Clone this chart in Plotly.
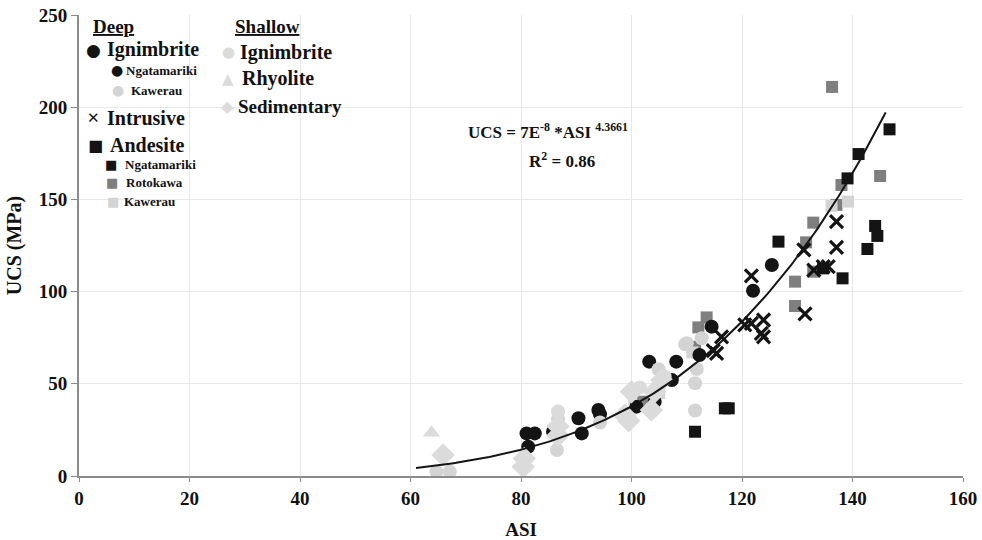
import numpy as np
import plotly.graph_objects as go

# ---------------- data ----------------
ign_ngat_x = [81.0, 82.5, 81.3, 85.8, 90.4, 91.0, 94.0, 94.3, 100.9, 104.2, 103.2, 108.1, 107.3, 112.3, 114.5, 122.0, 125.4]
ign_ngat_y = [23.1, 23.1, 15.9, 24.0, 31.3, 23.1, 35.8, 33.5, 37.6, 40.3, 62.0, 62.0, 52.0, 65.6, 81.0, 100.5, 114.4]

ign_kaw_x = [64.7, 67.1, 86.5, 111.5, 111.5, 111.8, 112.7, 109.7, 86.7, 94.3, 104.9, 110.0]
ign_kaw_y = [2.3, 2.3, 14.1, 50.3, 35.5, 58.0, 74.7, 71.4, 31.0, 29.0, 57.9, 72.0]

sh_ign_x = [86.7, 80.4, 101.5, 106.0]
sh_ign_y = [35.0, 6.0, 48.0, 54.0]

rhy_x = [63.8]
rhy_y = [23.5]

sed_x = [65.9, 80.4, 80.6, 86.7, 86.7, 98.8, 100.0, 99.5, 104.2, 103.6, 105.5]
sed_y = [11.4, 5.0, 9.5, 22.0, 27.0, 33.0, 45.7, 30.0, 45.7, 35.8, 52.0]

intr_x = [121.7, 116.3, 115.4, 114.8, 120.5, 121.7, 123.9, 123.9, 131.2, 133.0, 134.7, 135.6, 137.1, 137.1, 131.4, 123.5]
intr_y = [108.5, 75.5, 66.5, 68.0, 81.9, 82.8, 84.6, 75.5, 122.6, 111.7, 113.5, 113.5, 137.9, 124.0, 87.9, 77.4]

and_ngat_x = [146.7, 141.1, 139.1, 144.1, 144.5, 142.7, 138.2, 126.6, 134.7, 116.9, 117.6, 111.5]
and_ngat_y = [188.0, 174.6, 161.4, 135.6, 130.2, 123.1, 107.2, 127.1, 112.6, 36.7, 36.7, 24.0]

and_rot_x = [136.3, 145.0, 138.0, 137.1, 132.9, 131.6, 132.9, 129.6, 129.6, 113.6, 112.1, 111.5, 102.1]
and_rot_y = [211.0, 162.7, 157.8, 147.0, 137.4, 126.7, 110.8, 105.4, 92.2, 86.0, 80.6, 70.1, 40.3]

and_kaw_x = [139.2, 136.2, 111.0, 100.5, 105.0]
and_kaw_y = [148.8, 146.5, 67.0, 38.0, 45.0]

fit_a = 7e-8
fit_b = 4.3661
fit_xmin, fit_xmax = 61.0, 146.0

x_ticks = [0, 20, 40, 60, 80, 100, 120, 140, 160]
y_ticks = [0, 50, 100, 150, 200, 250]

# ---------------- styles ----------------
BLACK = "#141414"
GREY = "#7f7f7f"
LIGHT = "#d4d4d4"
LIGHT2 = "#dbdbdb"
FONT = "Liberation Serif"
SYMFONT = "DejaVu Sans"

fig = go.Figure()

def add(x, y, symbol, color, size, name):
    fig.add_trace(go.Scatter(x=x, y=y, mode="markers", name=name,
                             marker=dict(symbol=symbol, color=color, size=size,
                                         line=dict(width=0)),
                             showlegend=False))

add(and_rot_x, and_rot_y, "square", GREY, 12, "Andesite Rotokawa")
add(and_kaw_x, and_kaw_y, "square", LIGHT, 12, "Andesite Kawerau")
add(and_ngat_x, and_ngat_y, "square", BLACK, 12, "Andesite Ngatamariki")
add(ign_ngat_x, ign_ngat_y, "circle", BLACK, 14, "Ignimbrite Ngatamariki")
add(ign_kaw_x, ign_kaw_y, "circle", LIGHT, 14, "Ignimbrite Kawerau")
add(sh_ign_x, sh_ign_y, "circle", LIGHT2, 14, "Shallow Ignimbrite")
add(rhy_x, rhy_y, "triangle-up", LIGHT2, 15, "Rhyolite")
add(sed_x, sed_y, "diamond", LIGHT2, 18, "Sedimentary")
fig.add_trace(go.Scatter(x=intr_x, y=intr_y, mode="markers", name="Intrusive",
                         marker=dict(symbol="x-thin", size=13, color=BLACK,
                                     line=dict(width=3.2, color=BLACK)),
                         showlegend=False))

fx = np.linspace(fit_xmin, fit_xmax, 200)
fy = fit_a * fx ** fit_b
fig.add_trace(go.Scatter(x=fx, y=fy, mode="lines", line=dict(color=BLACK, width=2),
                         showlegend=False, hoverinfo="skip"))

# ---------------- layout ----------------
L, R, T, B = 79, 19, 15, 64
W, H = 982, 540
PW, PH = W - L - R, H - T - B

def px(x):
    return (x - L) / PW

def py(y):
    return (H - B - y) / PH

ann = []

def txt(x, y, s, size, color="#111", anchor="left", family=FONT):
    ann.append(dict(x=px(x), y=py(y), xref="paper", yref="paper", text=s,
                    showarrow=False, xanchor=anchor, yanchor="middle",
                    font=dict(family=family, size=size, color=color)))

# legend (Deep column)
txt(91, 27, "<b><u>Deep</u></b>", 19)
txt(93, 50, "●", 17, BLACK, "center", SYMFONT); txt(105, 50, "<b>Ignimbrite</b>", 20)
txt(117, 70, "●", 14, BLACK, "center", SYMFONT); txt(124, 70, "<b>Ngatamariki</b>", 13)
txt(118, 90, "●", 14, LIGHT, "center", SYMFONT); txt(129, 90, "<b>Kawerau</b>", 13)
txt(93, 118, "<b>✕</b>", 15, BLACK, "center", SYMFONT); txt(105, 118, "<b>Intrusive</b>", 20)
txt(95, 145, "■", 16, BLACK, "center", SYMFONT); txt(108, 145, "<b>Andesite</b>", 20)
txt(111, 164, "■", 13, BLACK, "center", SYMFONT); txt(123, 164, "<b>Ngatamariki</b>", 13)
txt(112, 182, "■", 13, GREY, "center", SYMFONT); txt(124, 182, "<b>Rotokawa</b>", 13)
txt(113, 201, "■", 13, LIGHT, "center", SYMFONT); txt(122, 201, "<b>Kawerau</b>", 13)
# legend (Shallow column)
txt(233, 27, "<b><u>Shallow</u></b>", 19)
txt(228, 52, "●", 15, LIGHT2, "center", SYMFONT); txt(238, 52, "<b>Ignimbrite</b>", 20)
txt(228, 79, "▲", 15, LIGHT2, "center", SYMFONT); txt(240, 79, "<b>Rhyolite</b>", 20)
txt(227, 106, "◆", 16, LIGHT2, "center", SYMFONT); txt(236, 106, "<b>Sedimentary</b>", 19)

# equation
txt(466, 131, "<b>UCS = 7E<sup>-8</sup> *ASI <sup>4.3661</sup></b>", 17)
txt(527, 160, "<b>R<sup>2</sup> = 0.86</b>", 17)

fig.update_layout(
    width=W, height=H,
    margin=dict(l=L, r=R, t=T, b=B, autoexpand=False),
    paper_bgcolor="white", plot_bgcolor="white",
    font=dict(family=FONT, size=19, color="#111"),
    annotations=ann,
    xaxis=dict(range=[0, 160], tickvals=x_ticks, ticktext=[f"<b>{v}</b>" for v in x_ticks],
               showgrid=True, gridcolor="#e8e8e8", gridwidth=1,
               showline=True, linecolor="#8c8c8c", linewidth=2,
               ticks="outside", ticklen=4, tickcolor="#8c8c8c",
               zeroline=False, tickfont=dict(family=FONT, size=19, color="#111"),
               title=dict(text="<b>ASI</b>", font=dict(family=FONT, size=19), standoff=16)),
    yaxis=dict(range=[0, 250], tickvals=y_ticks, ticktext=[f"<b>{v}</b>" for v in y_ticks],
               showgrid=True, gridcolor="#e8e8e8", gridwidth=1,
               showline=True, linecolor="#8c8c8c", linewidth=2,
               ticks="outside", ticklen=6, tickcolor="#8c8c8c",
               zeroline=False, tickfont=dict(family=FONT, size=19, color="#111"),
               title=dict(text="<b>UCS (MPa)</b>", font=dict(family=FONT, size=20), standoff=12)),
)

fig.write_html("out.html")
